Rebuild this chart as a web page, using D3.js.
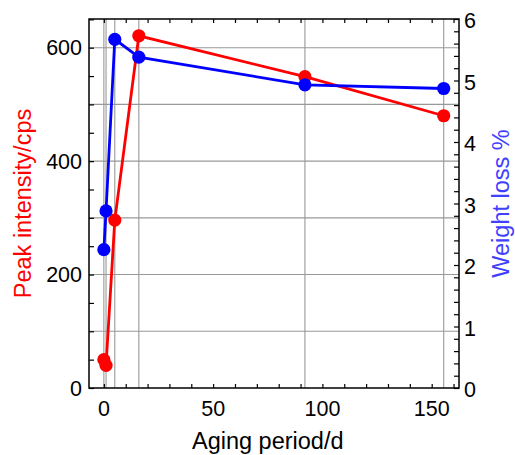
<!DOCTYPE html>
<html>
<head>
<meta charset="utf-8">
<script src="https://cdn.jsdelivr.net/npm/d3@7"></script>
<style>
  html, body { margin: 0; padding: 0; background: #fff; }
  svg { display: block; }
  text { font-family: "Liberation Sans", Arial, sans-serif; }
</style>
</head>
<body>
<svg id="chart" width="515" height="455"></svg>
<script>
// Data
const agingDays   = [0, 1, 5, 16, 92, 155.5];
const peakIntensity = [50, 40, 296, 621, 549, 480];
const weightLoss    = [2.25, 2.88, 5.67, 5.38, 4.93, 4.87];
const xTickLabels   = [0, 50, 100, 150];
const yLeftTickLabels  = [0, 200, 400, 600];
const yRightTickLabels = [0, 1, 2, 3, 4, 5, 6];

const W = 515, H = 455;
const m = { left: 89, top: 19, right: 56, bottom: 67 };
const iw = W - m.left - m.right, ih = H - m.top - m.bottom;

const svg = d3.select("#chart");
const g = svg.append("g").attr("transform", `translate(${m.left},${m.top})`);

const x = d3.scaleLinear().domain([-6.8, 162.5]).range([0, iw]);
const yL = d3.scaleLinear().domain([0, 650.6]).range([ih, 0]);
const yR = d3.scaleLinear().domain([0, 6]).range([ih, 0]);

// grid
const gridColor = "#999";
g.append("g").selectAll("line").data(d3.range(100, 601, 100)).join("line")
  .attr("x1", 0).attr("x2", iw).attr("y1", d => yL(d)).attr("y2", d => yL(d))
  .attr("stroke", gridColor).attr("stroke-width", 1.1);
g.append("g").selectAll("line").data(agingDays).join("line")
  .attr("y1", 0).attr("y2", ih).attr("x1", d => x(d)).attr("x2", d => x(d))
  .attr("stroke", gridColor).attr("stroke-width", 1.1);

// axes (ticks inward)
const tickFont = "21.5px";
const xMinor = d3.range(0, 161, 10);
const axB = g.append("g").attr("transform", `translate(0,${ih})`)
  .call(d3.axisBottom(x).tickValues(xMinor).tickSize(-4).tickFormat(""));
const axT = g.append("g")
  .call(d3.axisTop(x).tickValues(xMinor).tickSize(-4).tickFormat(""));
const axL = g.append("g")
  .call(d3.axisLeft(yL).tickValues(d3.range(0, 651, 50)).tickSize(-5).tickFormat(""));
const axR = g.append("g").attr("transform", `translate(${iw},0)`)
  .call(d3.axisRight(yR).tickValues(d3.range(0, 31).map(i => i * 0.2)).tickSize(-5).tickFormat(""));
[axB, axT, axL, axR].forEach(a => {
  a.select(".domain").remove();
  a.selectAll("line").attr("stroke", "#000").attr("stroke-width", 1.2);
});

// tick labels
g.append("g").selectAll("text").data(xTickLabels).join("text")
  .attr("x", d => x(d)).attr("y", ih + 28).attr("text-anchor", "middle")
  .style("font-size", tickFont).text(d => d);
g.append("g").selectAll("text").data(yLeftTickLabels).join("text")
  .attr("x", -7).attr("y", d => yL(d)).attr("dy", "0.36em").attr("text-anchor", "end")
  .style("font-size", tickFont).text(d => d);
g.append("g").selectAll("text").data(yRightTickLabels).join("text")
  .attr("x", iw + 5).attr("y", d => yR(d)).attr("dy", "0.42em").attr("text-anchor", "start")
  .style("font-size", tickFont).text(d => d);

// frame
g.append("rect").attr("x", 0).attr("y", 0).attr("width", iw).attr("height", ih)
  .attr("fill", "none").attr("stroke", "#000").attr("stroke-width", 1.5);

// series
const redPts = agingDays.map((d, i) => [d, peakIntensity[i]]);
const bluePts = agingDays.map((d, i) => [d, weightLoss[i]]);

g.append("path").datum(redPts)
  .attr("d", d3.line().x(d => x(d[0])).y(d => yL(d[1])))
  .attr("fill", "none").attr("stroke", "#ff0000").attr("stroke-width", 2.8);
g.append("g").selectAll("circle").data(redPts).join("circle")
  .attr("cx", d => x(d[0])).attr("cy", d => yL(d[1])).attr("r", 6.6).attr("fill", "#ff0000");

g.append("path").datum(bluePts)
  .attr("d", d3.line().x(d => x(d[0])).y(d => yR(d[1])))
  .attr("fill", "none").attr("stroke", "#0000ff").attr("stroke-width", 2.8);
g.append("g").selectAll("circle").data(bluePts).join("circle")
  .attr("cx", d => x(d[0])).attr("cy", d => yR(d[1])).attr("r", 6.6).attr("fill", "#0000ff");

// axis titles
svg.append("text").attr("x", m.left + x(75)).attr("y", 449)
  .attr("text-anchor", "middle").style("font-size", "23.5px").text("Aging period/d");
svg.append("text").attr("transform", `translate(31,${m.top + ih / 2}) rotate(-90)`)
  .attr("text-anchor", "middle").style("font-size", "23.5px").attr("fill", "#ff0000")
  .text("Peak intensity/cps");
svg.append("text").attr("transform", `translate(509,${m.top + ih / 2}) rotate(-90)`)
  .attr("text-anchor", "middle").style("font-size", "23.5px").attr("fill", "#4040ff")
  .text("Weight loss %");
</script>
</body>
</html>
